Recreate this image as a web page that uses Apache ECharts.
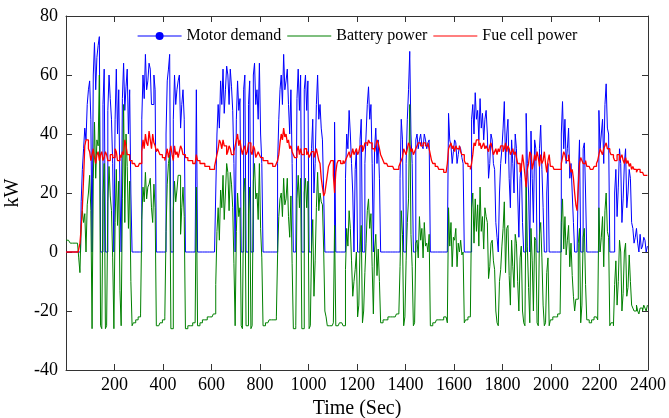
<!DOCTYPE html>
<html>
<head>
<meta charset="utf-8">
<script src="https://cdn.jsdelivr.net/npm/echarts@6/dist/echarts.min.js"></script>
<style>
html,body{margin:0;padding:0;background:#fff;}
#chart{width:669px;height:418px;}
</style>
</head>
<body>
<div id="chart"></div>
<script>
// Sampling interval of the traces (s)
const sampleStepSec = 5;

// Motor demand (kW), one value every 5 s from 0 to 2400 s
const motorDemand = [
0,0,0,0,0,0,0,0,0,0,0,0,0,17,28,35,42,38,50,55,
58,45,0,60,71,55,66,70,73,0,0,50,62,0,0,48,60,52,45,30,
0,45,62,40,55,20,0,52,64,48,56,62,40,55,20,0,0,0,0,0,
0,0,0,45,60,52,67,55,58,64,62,50,50,60,55,0,0,0,0,0,
0,0,0,40,58,62,67,0,0,45,60,50,55,58,60,42,50,55,45,0,
0,0,0,0,0,0,0,0,55,0,0,0,0,0,0,0,0,0,0,0,
0,0,0,0,20,40,50,42,58,50,62,47,55,63,60,50,62,56,48,30,
0,45,58,48,52,0,0,55,60,0,0,50,58,0,0,60,64,50,55,45,
64,40,30,0,0,0,0,0,0,0,0,0,0,0,0,30,45,55,60,50,
67,55,58,62,50,40,55,30,0,0,0,52,62,48,60,0,0,55,60,48,
58,0,0,35,45,20,30,50,60,45,50,42,38,20,0,0,0,0,0,0,
0,0,44,0,0,0,0,0,0,0,0,25,40,35,48,40,30,20,0,28,
35,0,0,38,45,0,0,30,40,50,56,45,50,30,0,35,42,30,38,25,
0,0,0,0,0,0,0,0,0,0,0,0,0,0,0,0,25,45,38,0,
0,30,45,55,68,40,30,0,0,38,40,35,38,40,36,35,40,38,35,37,
38,0,0,0,0,0,0,0,0,0,0,0,0,0,0,0,47,38,36,30,
34,38,37,30,33,36,35,32,30,0,0,0,0,0,0,45,50,40,54,45,
48,38,52,42,47,38,45,48,40,25,30,40,38,30,28,10,5,0,20,30,
35,42,51,30,40,45,25,15,38,30,20,40,35,20,5,25,30,10,0,0,
47,30,20,0,41,25,10,38,35,0,0,35,43,28,15,0,0,20,30,0,
0,0,0,0,0,0,0,0,0,40,51,35,45,30,35,42,25,30,20,10,
0,0,0,25,38,0,0,35,37,20,0,0,0,0,0,0,0,0,0,0,
48,35,40,45,30,50,57,42,40,0,0,0,0,20,28,12,22,35,30,10,
18,30,35,15,20,28,25,10,8,3,5,8,3,0,6,1,2,5,4,0,
2
];

// Battery power (kW)
const batteryPower = [
4,4,4,4,3,3,3,3,3,3,3,-2,-7,9,14,10,13,0,16,20,
26,14,-26,25,44,25,38,36,60,-25,-26,19,30,-26,-25,17,29,19,14,-2,
-26,10,28,9,24,-13,-25,18,50,10,40,29,8,24,-10,-25,-24,-24,-23,-23,
-22,-22,-21,11,22,17,27,18,22,23,25,15,10,23,15,-25,-25,-25,-24,-24,
-23,-23,-22,7,23,30,33,-26,-26,14,24,17,21,26,26,6,15,22,12,-26,
-26,-25,-25,-25,-25,-24,-24,-24,22,-25,-25,-24,-24,-23,-23,-23,-23,-22,-22,-22,
-22,-22,-21,-21,-11,7,15,4,21,15,26,11,20,30,27,14,27,23,15,-4,
-25,7,20,12,15,-25,-26,20,25,-25,-25,13,22,-26,-25,24,30,18,20,11,
30,8,-2,-25,-25,-24,-24,-24,-23,-23,-23,-23,-23,-23,-22,-1,12,18,20,12,
25,16,18,25,12,5,19,-4,-26,-26,-25,18,26,15,25,-26,-26,20,25,15,
24,-26,-25,1,11,-15,-3,15,27,14,20,17,16,1,-20,-22,-25,-25,-25,-25,
-25,-24,9,-25,-25,-25,-24,-24,-24,-25,-25,-6,8,2,14,8,-3,-15,-10,-6,
0,-22,-18,2,9,-24,-20,-7,3,14,18,8,13,-5,-21,1,6,-8,1,-10,
-24,-24,-23,-23,-23,-23,-22,-22,-22,-22,-22,-22,-22,-21,-21,-21,-5,14,6,-25,
-22,-3,10,18,50,6,-5,-25,-24,3,4,-2,12,4,8,-2,10,2,3,0,
6,-25,-25,-24,-24,-24,-23,-23,-23,-23,-23,-23,-22,-22,-22,-24,15,2,10,-5,
5,4,8,-5,3,0,4,-1,0,-24,-23,-23,-22,-22,-22,15,20,3,18,7,
16,2,22,7,12,1,15,12,10,-9,-5,3,4,-3,-6,-20,-24,-25,-10,-6,
2,8,17,-7,8,9,-8,-18,4,-5,-12,6,3,-10,-20,-2,2,-20,-24,-25,
25,2,-12,-24,8,-3,-20,5,4,-24,-25,6,10,-2,-18,-25,-24,-7,-2,-25,
-23,-23,-22,-22,-22,-22,-21,-21,-21,10,18,1,12,-1,4,9,-5,3,-8,-15,
-20,-16,-16,3,8,-24,-18,5,8,-11,-23,-23,-24,-24,-23,-23,-22,-22,-22,-23,
15,0,5,12,-5,14,20,7,5,-25,-24,-24,-25,-11,-3,-18,-10,4,0,-20,
-14,0,3,-15,-12,-1,-10,-18,-19,-20,-20,-18,-20,-21,-19,-19,-20,-18,-19,-20,
-18
];

// Fuel cell power (kW)
const fuelCellPower = [
0,0,0,0,0,0,0,0,0,0,0,0,3,8,15,25,36,38,38,35,
34,31,33,35,32,30,33,34,31,33,34,31,32,34,33,31,31,33,33,32,
32,35,34,31,31,33,32,34,33,38,36,33,33,31,31,30,30,30,29,29,
29,30,30,34,38,35,40,37,36,41,38,35,40,37,36,34,35,34,33,33,
32,32,31,33,35,32,34,36,33,31,36,33,34,32,34,36,35,33,33,32,
32,31,31,31,31,30,30,30,33,31,31,30,30,30,30,29,29,29,29,28,
28,28,28,29,31,33,35,38,37,35,38,36,36,33,34,36,35,33,33,34,
36,38,40,36,38,35,33,35,36,33,34,37,37,34,33,36,35,32,33,34,
33,32,32,31,31,31,31,30,30,30,30,29,29,29,30,31,33,37,40,38,
42,39,40,37,38,35,36,34,33,32,32,34,36,33,35,33,33,35,35,33,
34,32,33,34,34,32,33,35,33,31,30,25,22,19,20,23,26,29,30,31,
31,26,20,27,30,31,31,30,30,31,30,31,32,33,34,32,33,35,33,34,
35,33,34,36,36,34,35,37,37,36,38,37,37,35,35,34,36,38,37,35,
33,32,31,30,30,30,29,29,29,29,29,28,28,28,28,29,30,31,32,35,
34,33,35,37,36,34,35,33,34,35,36,37,37,36,36,37,37,36,36,37,
35,33,31,30,30,29,29,29,28,28,28,28,27,27,27,30,35,36,37,35,
36,34,36,35,35,36,34,33,33,31,30,30,29,29,28,30,33,37,36,38,
38,36,37,35,36,37,35,36,35,34,36,37,35,33,34,35,33,35,34,36,
36,34,35,37,34,36,35,33,34,35,33,34,32,30,30,27,28,33,30,26,
22,28,30,34,33,28,30,33,31,34,32,29,33,30,31,34,30,27,31,33,
29,29,29,28,28,28,28,28,28,30,32,34,33,31,31,33,30,27,28,25,
20,16,14,22,30,32,31,30,30,31,29,29,29,28,28,28,29,29,30,31,
33,35,34,33,35,36,37,35,35,34,33,33,32,31,31,33,33,31,32,33,
31,30,32,30,31,29,30,28,29,28,28,27,28,28,27,27,27,26,26,26,
26
];

const timeSec = motorDemand.map((_, i) => i * sampleStepSec);

const seriesNames = ['Motor demand', 'Battery power', 'Fue cell power'];
const xTicks = [0, 2400, 200];   // min, max, step
const yTicks = [-40, 80, 20];    // min, max, step

function pairs(vals) { return timeSec.map((t, i) => [t, vals[i]]); }

const FONT = 'Liberation Serif';
const axisColor = '#333';
const lineIcon = 'path://M0,0 L44,0 L44,1.2 L0,1.2 Z';

const chart = echarts.init(document.getElementById('chart'), null, {renderer: 'canvas'});
const baseX = {
  type: 'value', min: xTicks[0], max: xTicks[1], interval: xTicks[2],
  axisLine: {show: true, onZero: false, lineStyle: {color: axisColor, width: 1}},
  axisTick: {show: true, inside: true, length: 6, lineStyle: {color: axisColor}},
  splitLine: {show: false}
};
const baseY = {
  type: 'value', min: yTicks[0], max: yTicks[1], interval: yTicks[2],
  axisLine: {show: true, onZero: false, lineStyle: {color: axisColor, width: 1}},
  axisTick: {show: true, inside: true, length: 6, lineStyle: {color: axisColor}},
  splitLine: {show: false}
};
chart.setOption({
  animation: false,
  backgroundColor: '#fff',
  textStyle: {fontFamily: FONT},
  grid: {left: 66, right: 21, top: 16, bottom: 48, containLabel: false, outerBoundsMode: 'none'},
  legend: {
    left: 137, top: 28, padding: 0, itemWidth: 44, itemHeight: 10, itemGap: 6,
    symbolKeepAspect: true,
    textStyle: {fontFamily: FONT, fontSize: 16, color: '#000'},
    data: [
      {name: seriesNames[0], lineStyle: {width: 1.2}},
      {name: seriesNames[1], icon: lineIcon},
      {name: seriesNames[2], icon: lineIcon}
    ]
  },
  xAxis: [
    Object.assign({}, baseX, {
      position: 'bottom',
      name: 'Time (Sec)', nameLocation: 'middle', nameGap: 27,
      nameTextStyle: {fontFamily: FONT, fontSize: 20, color: '#000'},
      axisLabel: {fontFamily: FONT, fontSize: 18, color: '#000', margin: 6,
        formatter: v => (v === 0 ? '' : String(v))}
    }),
    Object.assign({}, baseX, {position: 'top', axisLabel: {show: false}})
  ],
  yAxis: [
    Object.assign({}, baseY, {
      position: 'left',
      name: 'kW', nameLocation: 'middle', nameGap: 34,
      nameTextStyle: {fontFamily: FONT, fontSize: 20, color: '#000'},
      axisLabel: {fontFamily: FONT, fontSize: 18, color: '#000', margin: 8}
    }),
    Object.assign({}, baseY, {position: 'right', axisLabel: {show: false}})
  ],
  series: [
    {name: seriesNames[0], type: 'line', step: 'middle', data: pairs(motorDemand),
     symbol: 'circle', symbolSize: 6, showSymbol: false,
     lineStyle: {color: '#0000ff', width: 1}, itemStyle: {color: '#0000ff'}},
    {name: seriesNames[1], type: 'line', step: 'middle', data: pairs(batteryPower),
     symbol: 'none',
     lineStyle: {color: '#008000', width: 1}, itemStyle: {color: '#008000'}},
    {name: seriesNames[2], type: 'line', step: 'middle', data: pairs(fuelCellPower),
     symbol: 'none',
     lineStyle: {color: '#ff0000', width: 1.3}, itemStyle: {color: '#ff0000'}}
  ]
});
</script>
</body>
</html>
